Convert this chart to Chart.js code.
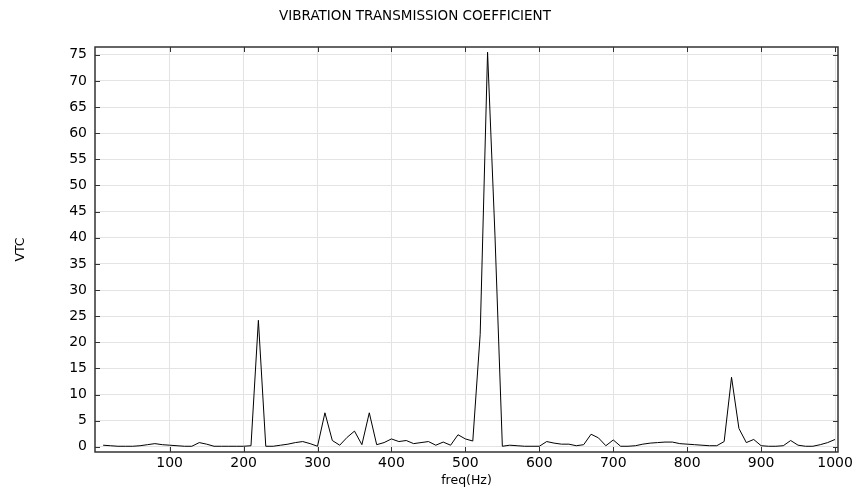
<!DOCTYPE html>
<html>
<head>
<meta charset="utf-8">
<script src="https://cdn.jsdelivr.net/npm/chart.js@4/dist/chart.umd.min.js"></script>
<style>
  html, body { margin: 0; padding: 0; background: #fff; }
  #wrap { width: 859px; height: 495px; }
</style>
</head>
<body>
<div id="wrap"><canvas id="vtcChart" width="859" height="495"></canvas></div>
<script>
const TITLE = "VIBRATION TRANSMISSION COEFFICIENT";
const X_LABEL = "freq(Hz)";
const Y_LABEL = "VTC";

const FREQS = [
  10, 20, 30, 40, 50, 60, 70, 80, 90, 100,
  110, 120, 130, 140, 150, 160, 170, 180, 190, 200,
  210, 220, 230, 240, 250, 260, 270, 280, 290, 300,
  310, 320, 330, 340, 350, 360, 370, 380, 390, 400,
  410, 420, 430, 440, 450, 460, 470, 480, 490, 500,
  510, 520, 530, 540, 550, 560, 570, 580, 590, 600,
  610, 620, 630, 640, 650, 660, 670, 680, 690, 700,
  710, 720, 730, 740, 750, 760, 770, 780, 790, 800,
  810, 820, 830, 840, 850, 860, 870, 880, 890, 900,
  910, 920, 930, 940, 950, 960, 970, 980, 990, 1000,
];

const VTC = [
  0.3, 0.2, 0.1, 0.1, 0.1, 0.2, 0.4, 0.6, 0.4, 0.3,
  0.2, 0.1, 0.1, 0.8, 0.5, 0.1, 0.1, 0.1, 0.1, 0.1,
  0.2, 24.2, 0.1, 0.1, 0.3, 0.5, 0.8, 1.0, 0.6, 0.1,
  6.5, 1.2, 0.3, 1.8, 3.0, 0.4, 6.5, 0.4, 0.8, 1.5,
  1.0, 1.2, 0.6, 0.8, 1.0, 0.3, 0.9, 0.3, 2.3, 1.5,
  1.1, 21.5, 75.5, 40.5, 0.1, 0.3, 0.2, 0.1, 0.1, 0.1,
  1.0, 0.7, 0.5, 0.5, 0.2, 0.4, 2.4, 1.7, 0.2, 1.3,
  0.1, 0.1, 0.2, 0.5, 0.7, 0.8, 0.9, 0.9, 0.6, 0.5,
  0.4, 0.3, 0.2, 0.2, 1.0, 13.3, 3.5, 0.8, 1.4, 0.2,
  0.1, 0.1, 0.2, 1.2, 0.3, 0.1, 0.1, 0.4, 0.8, 1.4,
];

const X_TICKS = [100, 200, 300, 400, 500, 600, 700, 800, 900, 1000];
const Y_TICKS = [0, 5, 10, 15, 20, 25, 30, 35, 40, 45, 50, 55, 60, 65, 70, 75];

const FONT = "'DejaVu Sans', sans-serif";
const AXIS_COLOR = "#333333";

// frame on all four sides with inward tick marks, like the original plot
const framePlugin = {
  id: "frame",
  afterDraw(chart) {
    const { ctx, chartArea: a, scales } = chart;
    const len = 5;
    ctx.save();
    ctx.strokeStyle = AXIS_COLOR;
    ctx.lineWidth = 1;
    ctx.beginPath();
    X_TICKS.forEach((v) => {
      const px = Math.round(scales.x.getPixelForValue(v)) + 0.5;
      ctx.moveTo(px, a.bottom);
      ctx.lineTo(px, a.bottom - len);
      ctx.moveTo(px, a.top);
      ctx.lineTo(px, a.top + len);
    });
    Y_TICKS.forEach((v) => {
      const py = Math.round(scales.y.getPixelForValue(v)) + 0.5;
      ctx.moveTo(a.left, py);
      ctx.lineTo(a.left + len, py);
      ctx.moveTo(a.right, py);
      ctx.lineTo(a.right - len, py);
    });
    ctx.stroke();
    ctx.lineWidth = 1.5;
    ctx.strokeRect(a.left, a.top, a.right - a.left, a.bottom - a.top);

    ctx.fillStyle = "#000";
    ctx.font = "13.5px " + FONT;
    ctx.textAlign = "center";
    ctx.textBaseline = "middle";
    ctx.fillText(TITLE, 415, 16);
    ctx.restore();
  },
};

function init() {
  const ctx = document.getElementById("vtcChart");
  new Chart(ctx, {
    type: "line",
    data: {
      datasets: [{
        label: Y_LABEL,
        data: FREQS.map((f, i) => ({ x: f, y: VTC[i] })),
        borderColor: "#000000",
        borderWidth: 1,
        pointRadius: 0,
        tension: 0,
        fill: false,
      }],
    },
    options: {
      responsive: false,
      animation: false,
      devicePixelRatio: 1,
      layout: { padding: { top: 47, right: 21, bottom: 0, left: 0 } },
      plugins: {
        legend: { display: false },
        title: { display: false },
        tooltip: { enabled: false },
      },
      scales: {
        x: {
          type: "linear",
          min: -1,
          max: 1004,
          afterBuildTicks: (scale) => {
            scale.ticks = X_TICKS.map((v) => ({ value: v }));
          },
          afterFit: (scale) => { scale.height = 43; },
          grid: { color: "#e3e3e3", lineWidth: 1, drawTicks: false },
          border: { display: false },
          ticks: {
            color: "#000",
            padding: 3,
            maxRotation: 0,
            font: { family: FONT, size: 14 },
            callback: (v) => String(v),
          },
          title: {
            display: true,
            text: X_LABEL,
            color: "#000",
            padding: { top: 0, bottom: 7 },
            font: { family: FONT, size: 12.5 },
          },
        },
        y: {
          min: -1,
          max: 76.5,
          afterBuildTicks: (scale) => {
            scale.ticks = Y_TICKS.map((v) => ({ value: v }));
          },
          afterFit: (scale) => { scale.width = 95; },
          grid: { color: "#e3e3e3", lineWidth: 1, drawTicks: false },
          border: { display: false },
          ticks: {
            color: "#000",
            padding: 8,
            font: { family: FONT, size: 14 },
          },
          title: {
            display: true,
            text: Y_LABEL,
            color: "#000",
            padding: { top: 13, bottom: 0 },
            font: { family: FONT, size: 12.5 },
          },
        },
      },
    },
    plugins: [framePlugin],
  });
}

if (document.readyState === "loading") {
  document.addEventListener("DOMContentLoaded", init);
} else {
  init();
}
</script>
</body>
</html>
